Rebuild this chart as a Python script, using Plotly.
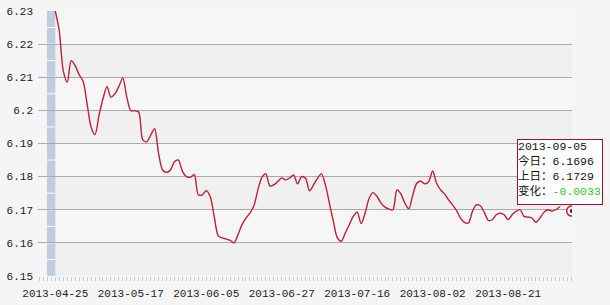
import plotly.graph_objects as go

# ---- data ----
rates = [
    6.2300, 6.2240, 6.2120, 6.2085, 6.2150, 6.2135, 6.2108, 6.2088, 6.2020, 6.1950,
    6.1927, 6.1985, 6.2035, 6.2072, 6.2040, 6.2050, 6.2072, 6.2098, 6.2040, 6.1999,
    6.1999, 6.1995, 6.1912, 6.1905, 6.1925, 6.1945, 6.1870, 6.1820, 6.1813, 6.1820,
    6.1845, 6.1850, 6.1816, 6.1800, 6.1798, 6.1806, 6.1745, 6.1745, 6.1758, 6.1740,
    6.1680, 6.1622, 6.1615, 6.1612, 6.1608, 6.1600, 6.1625, 6.1655, 6.1675, 6.1690,
    6.1712, 6.1760, 6.1798, 6.1808, 6.1772, 6.1775, 6.1785, 6.1796, 6.1790, 6.1796,
    6.1805, 6.1778, 6.1800, 6.1795, 6.1757, 6.1775, 6.1795, 6.1808, 6.1775, 6.1720,
    6.1665, 6.1615, 6.1605, 6.1630, 6.1655, 6.1680, 6.1693, 6.1658, 6.1690, 6.1735,
    6.1752, 6.1740, 6.1720, 6.1708, 6.1702, 6.1700, 6.1760, 6.1748, 6.1720, 6.1703,
    6.1745, 6.1780, 6.1786, 6.1778, 6.1785, 6.1817, 6.1780, 6.1760, 6.1748, 6.1730,
    6.1715, 6.1698, 6.1675, 6.1662, 6.1660, 6.1695, 6.1715, 6.1712, 6.1692, 6.1668,
    6.1670, 6.1685, 6.1690, 6.1685, 6.1670, 6.1685, 6.1695, 6.1700, 6.1680, 6.1678,
    6.1675, 6.1662, 6.1675, 6.1692, 6.1700, 6.1696, 6.1700, 6.1709, 6.1718, 6.1729,
    6.1696,
]
tick_labels = ["2013-04-25", "2013-05-17", "2013-06-05", "2013-06-27",
               "2013-07-16", "2013-08-02", "2013-08-21"]
tick_step = 19
last_date = "2013-09-05"
y_ticks = [6.15, 6.16, 6.17, 6.18, 6.19, 6.2, 6.21, 6.22, 6.23]

n = len(rates)
idx = list(range(n))
tick_idx = [i * tick_step for i in range(len(tick_labels))]

W, H = 610, 305
ML, MR, MT, MB = 38, 38, 11, 29
plot_w = W - ML - MR
x_first_px = 55.3
x_last_px = 571.7
px_per_pt = (x_last_px - x_first_px) / (n - 1)
x_min = -(x_first_px - ML) / px_per_pt
x_max = (n - 1) + (ML + plot_w - x_last_px) / px_per_pt
band_left = -(x_first_px - 47) / px_per_pt

line_color = "#be1e36"
font_fam = "Liberation Mono, Noto Sans CJK SC, monospace"

fig = go.Figure()

# pale tail under the tooltip
fig.add_trace(go.Scatter(x=idx, y=rates, mode="lines",
                         line=dict(color="#ecbcc4", width=1.3, shape="spline", smoothing=0.8),
                         hoverinfo="skip", showlegend=False))
fig.add_trace(go.Scatter(x=idx[:128], y=rates[:128], mode="lines",
                         line=dict(color=line_color, width=1.3, shape="spline", smoothing=0.8),
                         hoverinfo="skip", showlegend=False))
# last point marker
fig.add_trace(go.Scatter(x=[idx[-1]], y=[rates[-1]], mode="markers",
                         marker=dict(size=10, color="white", line=dict(color=line_color, width=1.5)),
                         hoverinfo="skip", showlegend=False))
fig.add_trace(go.Scatter(x=[idx[-1]], y=[rates[-1]], mode="markers",
                         marker=dict(size=4, color="#a01028"),
                         hoverinfo="skip", showlegend=False))

shapes = []
# alternating bands
for i in range(len(y_ticks) - 1):
    col = "#f6f6f6" if (len(y_ticks) - 2 - i) % 2 == 0 else "#f0f0f0"
    shapes.append(dict(type="rect", xref="x", yref="y", x0=0, x1=x_max,
                       y0=y_ticks[i], y1=y_ticks[i + 1], fillcolor=col,
                       line=dict(width=0), layer="below"))
# blue band on the left
shapes.append(dict(type="rect", xref="x", yref="y", x0=band_left, x1=0,
                   y0=y_ticks[0], y1=y_ticks[-1], fillcolor="#bfcede",
                   line=dict(width=0), layer="below"))
k = 1
while y_ticks[0] + k * 0.005 < y_ticks[-1] - 1e-9:
    yv = y_ticks[0] + k * 0.005
    shapes.append(dict(type="line", xref="x", yref="y", x0=band_left, x1=0,
                       y0=yv, y1=yv, line=dict(color="white", width=1), layer="below"))
    k += 1

change = rates[-1] - rates[-2]
tip = (f"{last_date}<br>今日：{rates[-1]:.4f}<br>上日：{rates[-2]:.4f}<br>"
       f"变化：<span style='color:#22cc22'>{change:+.4f}</span>")

fig.update_layout(
    width=W, height=H,
    margin=dict(l=ML, r=MR, t=MT, b=MB, pad=0),
    paper_bgcolor="#f5f5f5", plot_bgcolor="#f5f5f5",
    shapes=shapes,
    annotations=[dict(x=idx[-1], y=rates[-1], xref="x", yref="y",
                      xanchor="left", yanchor="bottom", xshift=-55, yshift=6,
                      width=84, height=64, valign="top",
                      text=tip, showarrow=False, align="left",
                      font=dict(family=font_fam, size=11.5, color="#111"),
                      bgcolor="white", bordercolor="#a01030", borderwidth=1, borderpad=0)],
    xaxis=dict(range=[x_min, x_max], tickmode="array", tickvals=tick_idx,
               ticktext=tick_labels, showgrid=False, zeroline=False, automargin=False,
               showline=False, ticks="outside", ticklen=4, tickcolor="#c0ccd8",
               ticklabelstandoff=3,
               minor=dict(tickmode="linear", tick0=0, dtick=1, ticks="outside",
                          ticklen=4, tickcolor="#c0ccd8"),
               tickfont=dict(family=font_fam, size=11, color="#1a1a2a")),
    yaxis=dict(range=[y_ticks[0], y_ticks[-1]], tickmode="array", tickvals=y_ticks,
               ticktext=[f"{v:g}" for v in y_ticks], showgrid=True, gridcolor="#aaaaaa",
               gridwidth=1, zeroline=False, showline=False, ticks="", automargin=False,
               ticklabelstandoff=4,
               tickfont=dict(family=font_fam, size=11, color="#1a1a2a")),
    showlegend=False,
)

fig.write_html("out.html")
